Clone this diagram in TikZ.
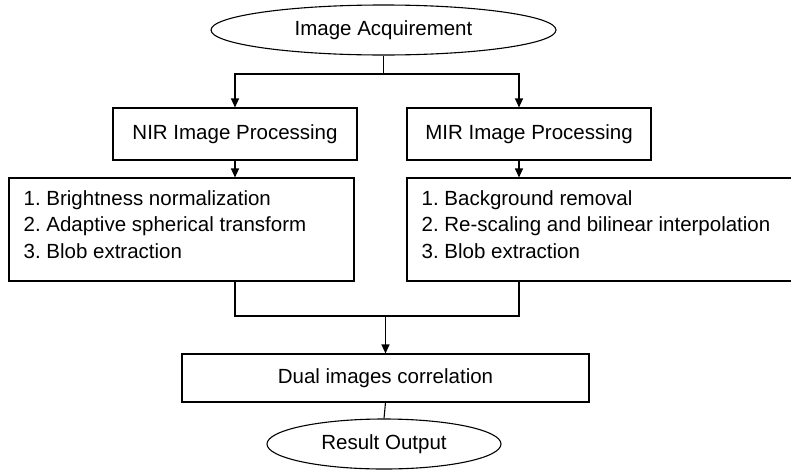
\documentclass[tikz,border=0pt]{standalone}
\usepackage{fontspec}
\setmainfont{Liberation Sans}
\usepackage{tikz}
\usetikzlibrary{arrows.meta,shapes.geometric}

\tikzset{
  flow/.style={line width=1.1pt},
  flowarrow/.style={flow,-{Triangle[length=9pt,width=8pt]}},
  stage/.style={draw,rectangle,line width=1.1pt,inner sep=0pt},
  terminal/.style={draw,ellipse,line width=1.1pt,inner sep=0pt},
  steptext/.style={anchor=north west,align=left,inner sep=0pt}
}

\begin{document}
\frenchspacing
\begin{tikzpicture}[x=1pt,y=-1pt,every node/.style={font=\fontsize{20.5}{26.5}\selectfont}]
  \useasboundingbox (0,0) rectangle (791,469);

  %start and end
  \node[terminal,minimum width=345pt,minimum height=50pt] (acq) at (383.5,30) {Image Acquirement};
  \node[terminal,minimum width=234pt,minimum height=50pt] (result) at (384,444) {Result Output};

  %processing branches
  \node[stage,minimum width=244pt,minimum height=52pt] (nir) at (235,134) {NIR Image Processing};
  \node[stage,minimum width=244pt,minimum height=52pt] (mir) at (529,134) {MIR Image Processing};
  \node[stage,minimum width=345pt,minimum height=103pt] (nirsteps) at (181.5,229.5) {};
  \node[stage,minimum width=388pt,minimum height=103pt] (mirsteps) at (601,229.5) {};
  \node[steptext] (nirlist) at ([xshift=15pt,yshift=-12.5pt]nirsteps.north west)
    {1. Brightness normalization\\2. Adaptive spherical transform\\3. Blob extraction};
  \node[steptext] (mirlist) at ([xshift=15pt,yshift=-12.5pt]mirsteps.north west)
    {1. Background removal\\2. Re-scaling and bilinear interpolation\\3. Blob extraction};

  \node[stage,minimum width=407pt,minimum height=48pt] (dual) at (385.5,378) {Dual images correlation};

  %split and merge points
  \coordinate (fork) at (383.5,74);
  \coordinate (join) at (385.5,316);

  %connectors
  \draw[flow] (acq.south) -- (fork);
  \draw[flowarrow] (fork) -| (nir.north);
  \draw[flowarrow] (fork) -| ([xshift=-10pt]mir.north);

  \draw[flowarrow] (nir.south) -- (nir.south |- nirsteps.north);
  \draw[flowarrow] ([xshift=-10pt]mir.south) -- ([xshift=-10pt]mir.south |- mirsteps.north);

  \draw[flow] (nir.south |- nirsteps.south) |- (join) -| ([xshift=-10pt]mir.south |- mirsteps.south);
  \draw[flowarrow] (join) -- (dual.north);
  \draw[flow] (dual.south) -- (result.north);
\end{tikzpicture}
\end{document}
